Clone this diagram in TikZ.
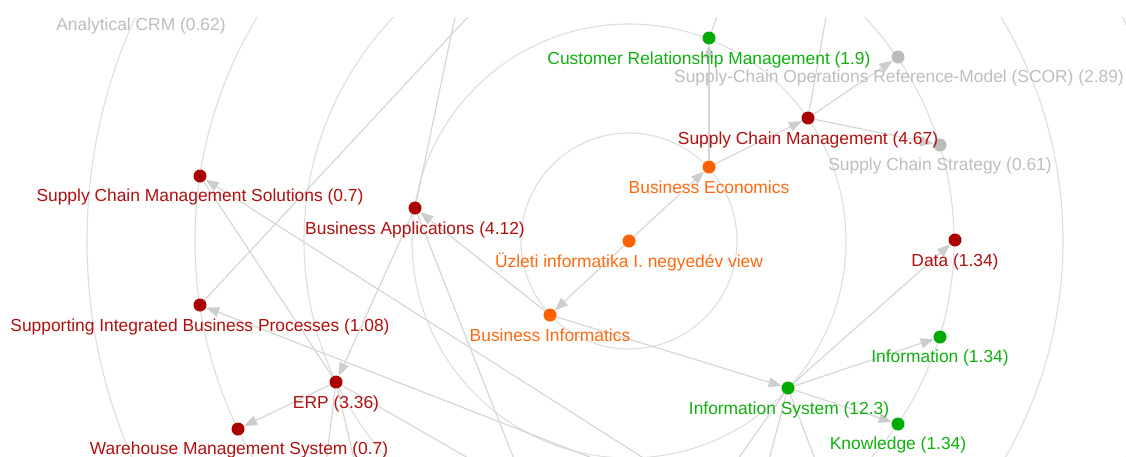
\documentclass[tikz,border=0pt]{standalone}
\usepackage{fontspec}
\setmainfont{Liberation Sans}
\usetikzlibrary{arrows.meta}
\definecolor{ored}{HTML}{FF6000}
\definecolor{otxt}{HTML}{FF6A10}
\definecolor{dred}{HTML}{AA0000}
\definecolor{rtxt}{HTML}{B01010}
\definecolor{grn}{HTML}{00AA00}
\definecolor{gtxt}{HTML}{10B010}
\definecolor{gry}{HTML}{BBBBBB}
\definecolor{ytxt}{HTML}{BEBEBE}
\definecolor{edgec}{HTML}{D4D4D4}
\definecolor{tipc}{HTML}{CDCDCD}
\definecolor{ringc}{HTML}{DEDEDE}
\begin{document}
\begin{tikzpicture}[x=1pt,y=-1pt,
  dot/.style={circle,inner sep=0pt,minimum size=13pt,draw=none},
  lab/.style={anchor=base,inner sep=0pt,text=#1,font=\fontsize{17.4}{20}\selectfont},
  ring/.style={draw=ringc,line width=1.1pt},
  link/.style={draw=edgec,line width=1.1pt},
  arr/.style={link,-{Triangle[length=13pt,width=10pt,color=tipc]}}]
\useasboundingbox[fill=white] (0,0) rectangle (1126,456);

% nodes (named; filled after the connectors)
\node[dot] (U) at (629,241) {};
\node[dot] (BE) at (709,167) {};
\node[dot] (BI) at (550,315) {};
\node[dot] (CRM) at (709,38) {};
\node[dot] (SCM) at (808,118) {};
\node[dot] (SCOR) at (898,57) {};
\node[dot] (SCS) at (940,145) {};
\node[dot] (BA) at (415,208) {};
\node[dot] (IS) at (788,388) {};
\node[dot] (DATA) at (955,240) {};
\node[dot] (INF) at (940,337) {};
\node[dot] (KN) at (898,424) {};
\node[dot] (ERP) at (336,382) {};
\node[dot] (SCMS) at (200,176) {};
\node[dot] (SIBP) at (200,305) {};
\node[dot] (WMS) at (238,429) {};

% off-screen ends
\coordinate (oCRM) at (742,-50);
\coordinate (oSCM) at (838,-50);
\coordinate (oBA) at (469,-50);
\coordinate (oSIBP) at (530,-50);
\coordinate (oSCMS) at (741,520);
\coordinate (oSIBP2) at (751,520);
\coordinate (oBA2) at (538,520);
\coordinate (oERP1) at (319,520);
\coordinate (oERP2) at (368,520);
\coordinate (oERP3) at (576,520);
\coordinate (oIS1) at (695,520);
\coordinate (oIS2) at (753,520);
\coordinate (oIS3) at (838,520);

\begin{scope}
\clip (0,17) rectangle (1126,456);
\foreach \r in {108,217,325,434,542}
  \draw[ring] (U.center) circle[radius=\r pt];
% edges without visible arrowheads
\draw[link] (CRM) -- (oCRM);
\draw[link] (SCM) -- (oSCM);
\draw[link] (BA) -- (oBA);
\draw[link] (SIBP) -- (oSIBP);
\draw[link] (BA) -- (oBA2);
\draw[link] (ERP) -- (oERP1);
\draw[link] (ERP) -- (oERP2);
\draw[link] (ERP) -- (oERP3);
\draw[link] (IS) -- (oIS1);
\draw[link] (IS) -- (oIS2);
\draw[link] (IS) -- (oIS3);
\draw[link] (ERP) -- (SCMS);
% edges with arrowheads
\draw[arr] (U) -- (BE);
\draw[arr] (U) -- (BI);
\draw[arr] (BI) -- (BA);
\draw[arr] (BI) -- (IS);
\draw[arr] (BE) -- (SCM);
\draw[arr] (BE) -- (CRM);
\draw[arr] (SCM) -- (SCOR);
\draw[arr] (SCM) -- (SCS);
\draw[arr] (IS) -- (DATA);
\draw[arr] (IS) -- (INF);
\draw[arr] (IS) -- (KN);
\draw[arr] (BA) -- (ERP);
\draw[arr] (ERP) -- (WMS);
\draw[arr] (oSCMS) -- (SCMS);
\draw[arr] (oSIBP2) -- (SIBP);
\end{scope}

% node discs
\foreach \n in {U,BE,BI} \fill[ored] (\n) circle[radius=6.5pt];
\foreach \n in {CRM,IS,INF,KN} \fill[grn] (\n) circle[radius=6.5pt];
\foreach \n in {SCM,BA,DATA,ERP,SCMS,SIBP,WMS} \fill[dred] (\n) circle[radius=6.5pt];
\foreach \n in {SCOR,SCS} \fill[gry] (\n) circle[radius=6.5pt];

% labels
\node[lab=otxt] (tU) at (629,267) {Üzleti informatika I. negyedév view};
\node[lab=otxt] (tBE) at (709,193) {Business Economics};
\node[lab=otxt] (tBI) at (550,341) {Business Informatics};
\node[lab=gtxt] (tCRM) at (709,64) {Customer Relationship Management (1.9)};
\node[lab=rtxt] (tSCM) at (808,144) {Supply Chain Management (4.67)};
\node[lab=ytxt] (tSCOR) at (899,82) {Supply-Chain Operations Reference-Model (SCOR) (2.89)};
\node[lab=ytxt] (tSCS) at (940,170) {Supply Chain Strategy (0.61)};
\node[lab=rtxt] (tBA) at (415,234) {Business Applications (4.12)};
\node[lab=gtxt] (tIS) at (789,414) {Information System (12.3)};
\node[lab=rtxt] (tDATA) at (955,266) {Data (1.34)};
\node[lab=gtxt] (tINF) at (940,362) {Information (1.34)};
\node[lab=gtxt] (tKN) at (898,449) {Knowledge (1.34)};
\node[lab=rtxt] (tERP) at (336,408) {ERP (3.36)};
\node[lab=rtxt] (tSCMS) at (200,201) {Supply Chain Management Solutions (0.7)};
\node[lab=rtxt] (tSIBP) at (200,331) {Supporting Integrated Business Processes (1.08)};
\node[lab=rtxt] (tWMS) at (239,454) {Warehouse Management System (0.7)};
\node[lab=ytxt] (tACRM) at (141,30) {Analytical CRM (0.62)};
\end{tikzpicture}
\end{document}
